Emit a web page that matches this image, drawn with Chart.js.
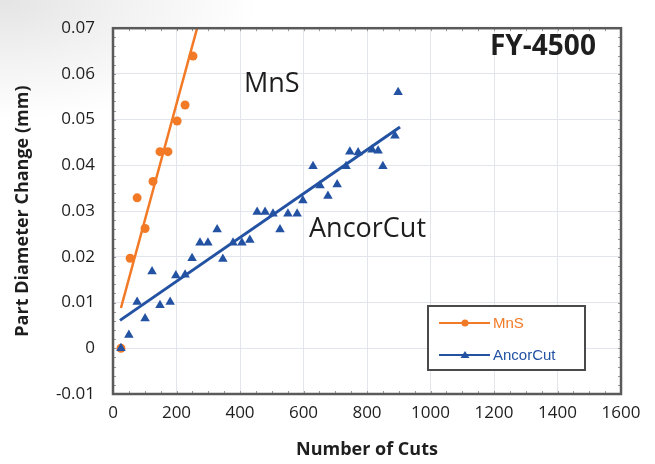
<!DOCTYPE html>
<html>
<head>
<meta charset="utf-8">
<script src="https://cdn.jsdelivr.net/npm/chart.js@4/dist/chart.umd.min.js"></script>
<style>
    html, body { margin:0; padding:0; }
    body {
        width:655px; height:464px; overflow:hidden;
        background: radial-gradient(ellipse 260px 120px at 0 0, #e4e4e4 0%, #f1f1f1 45%, #ffffff 100%);
    }
    #wrap { position:relative; width:655px; height:464px; }
</style>
</head>
<body>
<div id="wrap"><canvas id="chart" width="655" height="464"></canvas></div>
<script>
const x_ticks = [0, 200, 400, 600, 800, 1000, 1200, 1400, 1600]
const y_ticks = [-0.01, 0, 0.01, 0.02, 0.03, 0.04, 0.05, 0.06, 0.07]

const mns_cuts   = [25, 54, 76, 101, 126, 148, 173, 202, 227, 252]
const mns_change = [0.000, 0.0197, 0.0329, 0.0262, 0.0365, 0.0430, 0.0430, 0.0497, 0.0532, 0.0639]

const ancor_cuts   = [25, 50, 76, 101, 123, 148, 180, 198, 227, 249, 274, 299, 328, 346, 378, 406, 431, 454, 479, 504, 526, 551, 580, 598, 630, 652, 677, 706, 734, 746, 772, 816, 835, 850, 888, 898]
const ancor_change = [0.000, 0.0029, 0.0101, 0.0065, 0.0168, 0.0094, 0.0101, 0.0159, 0.0161, 0.0197, 0.0231, 0.0231, 0.0260, 0.0195, 0.0231, 0.0231, 0.0237, 0.0298, 0.0298, 0.0294, 0.0260, 0.0294, 0.0294, 0.0323, 0.0398, 0.0356, 0.0333, 0.0358, 0.0398, 0.0430, 0.0428, 0.0434, 0.0432, 0.0398, 0.0465, 0.0560]

// trend lines as drawn on the original
const mns_fit_cuts   = [25, 270]
const mns_fit_change = [0.0088, 0.0713]
const ancor_fit_cuts   = [22, 904]
const ancor_fit_change = [0.0061, 0.0484]

const orange = '#f27a26'
const blue = '#2352a3'
const font_family = "'Open Sans', sans-serif"

const to_points = (xs, ys) => xs.map((x, i) => ({x: x, y: ys[i]}))

const frame_plugin = {
    id: 'frame',
    beforeDraw(chart){
        const {ctx, chartArea: a} = chart
        ctx.save()
        ctx.fillStyle = '#ffffff'
        ctx.fillRect(a.left, a.top, a.right - a.left, a.bottom - a.top)
        ctx.restore()
    },
    afterDatasetsDraw(chart){
        const {ctx, chartArea: a, scales} = chart
        ctx.save()
        // small inward ticks along the frame
        ctx.strokeStyle = '#9a9a9a'
        ctx.lineWidth = 1
        for (let v = 0; v <= 1600; v += 50){
            const px = Math.round(scales.x.getPixelForValue(v)) + 0.5
            ctx.beginPath()
            ctx.moveTo(px, a.bottom); ctx.lineTo(px, a.bottom - 3)
            ctx.moveTo(px, a.top); ctx.lineTo(px, a.top + 3)
            ctx.stroke()
        }
        for (let v = -0.01; v <= 0.0701; v += 0.002){
            const py = Math.round(scales.y.getPixelForValue(v)) + 0.5
            ctx.beginPath()
            ctx.moveTo(a.left, py); ctx.lineTo(a.left + 3, py)
            ctx.moveTo(a.right, py); ctx.lineTo(a.right - 3, py)
            ctx.stroke()
        }
        ctx.strokeStyle = '#5a5a5a'
        ctx.lineWidth = 2.5
        ctx.strokeRect(a.left, a.top, a.right - a.left, a.bottom - a.top)

        // labels inside the plot
        ctx.fillStyle = '#1e1e1e'
        ctx.textBaseline = 'alphabetic'
        ctx.textAlign = 'left'
        ctx.font = `27px ${font_family}`
        ctx.fillText('MnS', 244, 92)
        ctx.fillText('AncorCut', 309, 237)
        ctx.font = `bold 28px ${font_family}`
        ctx.fillText('FY-4500', 490, 55)

        // legend box
        const lx = 428, ly = 306, lw = 157, lh = 64
        ctx.fillStyle = '#ffffff'
        ctx.fillRect(lx, ly, lw, lh)
        ctx.strokeStyle = '#4a4a4a'
        ctx.lineWidth = 2
        ctx.strokeRect(lx, ly, lw, lh)
        const rows = [
            {label: 'MnS', color: orange, y: ly + 17, marker: 'circle'},
            {label: 'AncorCut', color: blue, y: ly + 49, marker: 'triangle'}
        ]
        rows.forEach(r => {
            ctx.strokeStyle = r.color
            ctx.fillStyle = r.color
            ctx.lineWidth = 2
            ctx.beginPath()
            ctx.moveTo(lx + 11, r.y); ctx.lineTo(lx + 62, r.y)
            ctx.stroke()
            ctx.beginPath()
            if (r.marker == 'circle'){
                ctx.arc(lx + 37, r.y, 3.5, 0, Math.PI * 2)
            } else {
                ctx.moveTo(lx + 37, r.y - 4); ctx.lineTo(lx + 41.5, r.y + 3); ctx.lineTo(lx + 32.5, r.y + 3)
                ctx.closePath()
            }
            ctx.fill()
            ctx.font = `15px 'Liberation Sans', Arial, sans-serif`
            ctx.textBaseline = 'middle'
            ctx.fillText(r.label, lx + 65, r.y + 1)
        })
        ctx.restore()
    }
}

const ctx = document.getElementById('chart')
const chart = new Chart(ctx, {
    type: 'scatter',
    data: {
        datasets: [
            {
                label: 'MnS fit',
                data: to_points(mns_fit_cuts, mns_fit_change),
                showLine: true,
                borderColor: orange,
                borderWidth: 2.5,
                pointRadius: 0,
                order: 3
            },
            {
                label: 'AncorCut fit',
                data: to_points(ancor_fit_cuts, ancor_fit_change),
                showLine: true,
                borderColor: blue,
                borderWidth: 3,
                pointRadius: 0,
                order: 4
            },
            {
                label: 'MnS',
                data: to_points(mns_cuts, mns_change),
                pointStyle: 'circle',
                pointRadius: 4.5,
                backgroundColor: orange,
                borderColor: orange,
                borderWidth: 0,
                order: 2
            },
            {
                label: 'AncorCut',
                data: to_points(ancor_cuts, ancor_change),
                pointStyle: 'triangle',
                pointRadius: 5.5,
                backgroundColor: blue,
                borderColor: blue,
                borderWidth: 0,
                order: 1
            }
        ]
    },
    options: {
        responsive: false,
        animation: false,
        events: [],
        layout: {padding: {top: 13, right: 34, left: 0, bottom: 0}},
        plugins: {
            legend: {display: false},
            tooltip: {enabled: false}
        },
        scales: {
            x: {
                type: 'linear',
                min: 0,
                max: 1600,
                afterBuildTicks: scale => { scale.ticks = x_ticks.map(v => ({value: v})) },
                afterFit: scale => { scale.height = 70 },
                grid: {color: '#e2e5ec', lineWidth: 1, drawTicks: false},
                border: {display: false},
                ticks: {
                    padding: 9,
                    color: '#1e1e1e',
                    font: {family: font_family, size: 17},
                    callback: v => String(v)
                },
                title: {
                    display: true,
                    text: 'Number of Cuts',
                    color: '#1e1e1e',
                    font: {family: font_family, size: 18, weight: 'bold'},
                    padding: {top: 10, bottom: 3}
                }
            },
            y: {
                type: 'linear',
                min: -0.01,
                max: 0.07,
                afterBuildTicks: scale => { scale.ticks = y_ticks.map(v => ({value: v})) },
                afterFit: scale => { scale.width = 113 },
                grid: {color: '#e2e5ec', lineWidth: 1, drawTicks: false},
                border: {display: false},
                ticks: {
                    padding: 18,
                    color: '#1e1e1e',
                    font: {family: font_family, size: 17},
                    callback: v => v == 0 ? '0' : parseFloat(v.toFixed(2)).toString()
                },
                title: {
                    display: true,
                    text: 'Part Diameter Change (mm)',
                    color: '#1e1e1e',
                    font: {family: font_family, size: 18, weight: 'bold'},
                    padding: {top: 12, bottom: 4}
                }
            }
        }
    },
    plugins: [frame_plugin]
})
</script>
</body>
</html>
